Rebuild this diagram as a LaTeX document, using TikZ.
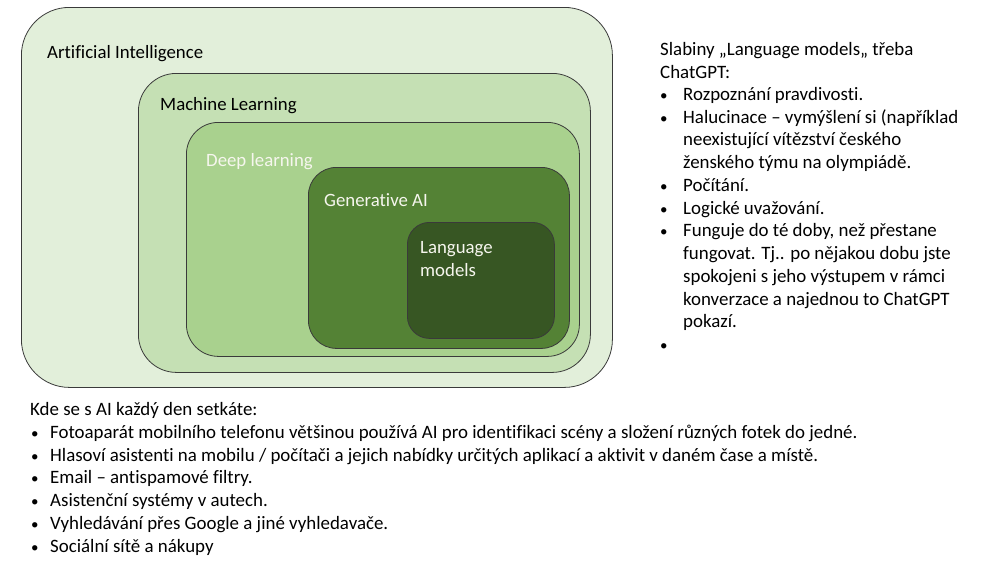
\documentclass[tikz,border=0pt]{standalone}
\usepackage{fontspec}
\setmainfont[Ligatures=NoCommon]{Carlito}
\definecolor{aiC}{HTML}{E2EFDA}
\definecolor{mlC}{HTML}{C5E0B4}
\definecolor{dlC}{HTML}{A9D18E}
\definecolor{gaC}{HTML}{548235}
\definecolor{lmC}{HTML}{375623}
\definecolor{edgeC}{HTML}{3A3A3A}
\definecolor{lightT}{HTML}{F6F6EE}
\tikzset{
  layer/.style={draw=edgeC, line width=0.8pt, anchor=north west, inner sep=0pt, rectangle},
  lbl/.style={anchor=base west, inner sep=0pt, font=\fontsize{18.8}{22}\selectfont},
  txt/.style={anchor=base west, inner sep=0pt, font=\fontsize{18.9}{22}\selectfont},
  bul/.style={anchor=base west, inner sep=0pt, font=\fontsize{15}{22}\selectfont},
}
\begin{document}
\begin{tikzpicture}[x=1pt,y=-1pt]
\useasboundingbox[fill=white] (0,0) rectangle (1000,563);
% nested boxes
\node[layer, fill=aiC, rounded corners=48pt, minimum width=591pt, minimum height=380pt] (ai) at (21,7) {};
\node[layer, fill=mlC, rounded corners=38pt, minimum width=452pt, minimum height=299pt] (ml) at (138,73) {};
\node[layer, fill=dlC, rounded corners=32pt, minimum width=393pt, minimum height=234pt] (dl) at (186,122) {};
\node[layer, fill=gaC, rounded corners=28pt, minimum width=261pt, minimum height=181pt] (ga) at (308,167) {};
\node[layer, fill=lmC, rounded corners=22pt, minimum width=147pt, minimum height=116pt] (lm) at (407,222) {};
% labels
\node[lbl] (tai) at (47,58) {Artificial Intelligence};
\node[lbl] (tml) at (160,110) {Machine Learning};
\node[lbl, text=lightT] (tdl) at (206,166) {Deep learning};
\node[lbl, text=lightT] (tga) at (324,206) {Generative AI};
\node[lbl, text=lightT] (tlm1) at (420,253) {Language};
\node[lbl, text=lightT] (tlm2) at (420,276) {models};
% right column
\node[txt] (r1) at (660,55) {Slabiny „Language models„ třeba};
\node[txt] (r2) at (660,78) {ChatGPT:};
\node[bul] (rb1) at (660,100) {•};
\node[txt] (r3) at (683,100) {Rozpoznání pravdivosti.};
\node[bul] (rb2) at (660,123) {•};
\node[txt] (r4) at (683,123) {Halucinace – vymýšlení si (například};
\node[txt] (r5) at (683,145) {neexistující vítězství českého};
\node[txt] (r6) at (683,168) {ženského týmu na olympiádě.};
\node[bul] (rb3) at (660,191) {•};
\node[txt] (r7) at (683,191) {Počítání.};
\node[bul] (rb4) at (660,214) {•};
\node[txt] (r8) at (683,214) {Logické uvažování.};
\node[bul] (rb5) at (660,236) {•};
\node[txt] (r9) at (683,236) {Funguje do té doby, než přestane};
\node[txt] (r10) at (683,259) {fungovat. Tj.. po nějakou dobu jste};
\node[txt] (r11) at (683,282) {spokojeni s jeho výstupem v rámci};
\node[txt] (r12) at (683,305) {konverzace a najednou to ChatGPT};
\node[txt] (r13) at (683,327) {pokazí.};
\node[bul] (rb6) at (660,350) {•};
% bottom list
\node[txt] (b0) at (30,415) {Kde se s AI každý den setkáte:};
\node[bul] (bb1) at (31,438) {•};
\node[txt] (b1) at (50,438) {Fotoaparát mobilního telefonu většinou používá AI pro identifikaci scény a složení různých fotek do jedné.};
\node[bul] (bb2) at (31,461) {•};
\node[txt] (b2) at (50,461) {Hlasoví asistenti na mobilu / počítači a jejich nabídky určitých aplikací a aktivit v daném čase a místě.};
\node[bul] (bb3) at (31,483) {•};
\node[txt] (b3) at (50,483) {Email – antispamové filtry.};
\node[bul] (bb4) at (31,506) {•};
\node[txt] (b4) at (50,506) {Asistenční systémy v autech.};
\node[bul] (bb5) at (31,529) {•};
\node[txt] (b5) at (50,529) {Vyhledávání přes Google a jiné vyhledavače.};
\node[bul] (bb6) at (31,552) {•};
\node[txt] (b6) at (50,552) {Sociální sítě a nákupy};
\end{tikzpicture}
\end{document}
